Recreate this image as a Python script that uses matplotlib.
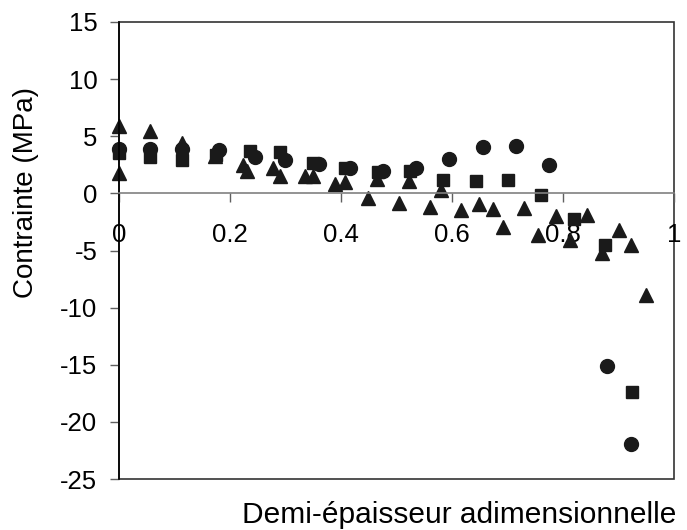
import matplotlib
matplotlib.use("Agg")
import matplotlib.pyplot as plt
from matplotlib.patches import Rectangle

plt.rcParams['font.family'] = ['Liberation Sans', 'DejaVu Sans']
plt.rcParams['axes.unicode_minus'] = False

# series
x_circle = [0, 0.056, 0.113, 0.18, 0.245, 0.30, 0.36, 0.416, 0.476, 0.536,
            0.595, 0.655, 0.715, 0.774, 0.88, 0.923]
y_circle = [3.9, 3.9, 3.9, 3.8, 3.2, 2.9, 2.6, 2.2, 2.0, 2.2,
            3.0, 4.1, 4.15, 2.5, -15.1, -21.9]

x_square = [0, 0.056, 0.113, 0.175, 0.236, 0.29, 0.35, 0.407, 0.467, 0.524,
            0.584, 0.643, 0.70, 0.76, 0.82, 0.876, 0.925]
y_square = [3.5, 3.2, 2.9, 3.4, 3.7, 3.6, 2.65, 2.2, 1.9, 2.0,
            1.2, 1.1, 1.2, -0.1, -2.2, -4.5, -17.4]

x_tri = [0, 0, 0.056, 0.113, 0.173, 0.224, 0.23, 0.278, 0.29, 0.335, 0.35,
         0.39, 0.407, 0.449, 0.464, 0.505, 0.523, 0.56, 0.58, 0.617, 0.649,
         0.673, 0.692, 0.73, 0.755, 0.787, 0.812, 0.843, 0.871, 0.90, 0.923, 0.95]
y_tri = [5.9, 1.8, 5.5, 4.4, 3.3, 2.5, 2.0, 2.2, 1.5, 1.5, 1.5,
         0.8, 1.0, -0.4, 1.3, -0.8, 1.1, -1.2, 0.3, -1.45, -0.9,
         -1.4, -2.9, -1.3, -3.6, -2.0, -4.1, -1.9, -5.2, -3.2, -4.5, -8.9]

xticks = [0, 0.2, 0.4, 0.6, 0.8, 1]
xtick_labels = ['0', '0.2', '0.4', '0.6', '0.8', '1']
yticks = [-25, -20, -15, -10, -5, 0, 5, 10, 15]

fig = plt.figure(figsize=(6.87, 5.30), dpi=100)
ax = fig.add_axes([0.1732, 0.0962, 0.8079, 0.8623])

ax.plot(x_circle, y_circle, 'o', color='#1a1a1a', ms=10, ls='none', clip_on=False)
ax.plot(x_square, y_square, 's', color='#1a1a1a', ms=9, ls='none', clip_on=False)
ax.plot(x_tri, y_tri, '^', color='#1a1a1a', ms=10.5, ls='none', clip_on=False)

ax.set_xlim(0, 1)
ax.set_ylim(-25, 15)
ax.set_xticks(xticks)
ax.set_xticklabels(xtick_labels)
ax.set_yticks(yticks)

# x axis crosses at zero
ax.spines['bottom'].set_position(('data', 0))
ax.spines['bottom'].set_color('#808080')
ax.spines['bottom'].set_linewidth(1.2)
ax.spines['left'].set_color('black')
ax.spines['left'].set_linewidth(1.2)
ax.spines['top'].set_visible(False)
ax.spines['right'].set_visible(False)
ax.add_patch(Rectangle((0, 0), 1, 1, transform=ax.transAxes, fill=False,
                       edgecolor='#333333', lw=1.2, clip_on=False, zorder=0))

ax.tick_params(axis='x', direction='out', length=6.5, width=1, color='#606060',
               labelsize=18.5, pad=15)
ax.tick_params(axis='y', direction='out', length=6.5, width=1, color='#606060',
               labelsize=18.5, pad=9)

ax.set_ylabel('Contrainte (MPa)', fontsize=20)
ax.yaxis.set_label_coords(-0.145, 0.626)
fig.text(0.984, 0.013, 'Demi-épaisseur adimensionnelle', fontsize=21.5,
         ha='right', va='baseline')

fig.savefig('out.png', dpi=100)
